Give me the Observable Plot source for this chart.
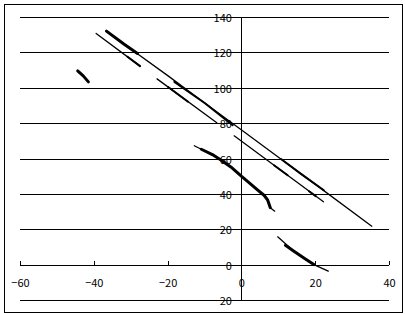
<!DOCTYPE html>
<html>
<head>
<meta charset="utf-8">
<script src="https://cdn.jsdelivr.net/npm/d3@7"></script>
<script src="https://cdn.jsdelivr.net/npm/@observablehq/plot@0.6"></script>
<style>
  html, body { margin: 0; padding: 0; background: #fff; }
</style>
</head>
<body>
<div id="chart"></div>
<script>
const xTicks = [-60, -40, -20, 0, 20, 40];
const yTicks = [-20, 0, 20, 40, 60, 80, 100, 120, 140];

// thin traces
const seriesA = [[-36.8,132.3],[-30,122],[-20,107],[-10,91.5],[0,76.3],[10,60.8],[20,45.5],[35.2,22.0]];
const seriesB = [[-39.5,131.0],[-27.6,112.5]];
const seriesC = [[-23.0,105.3],[-6.8,80.5]];
const seriesD = [[-2.1,73.1],[22.1,35.8]];
const seriesE = [[-12.9,67.5],[-11,65.5],[-8,62.5],[-5.7,59.4],[-3,55.5],[0,50],[2,46.5],[4.3,42.4],[6,39.5],[7,36.7],[7.7,32.5],[8.9,30.5]];
const seriesF = [[9.7,16.0],[14,8.0],[19.5,0.3],[23.4,-3.4]];
const seriesG = [[-44.5,109.8],[-43,107],[-41.6,103.6]];

// dense (heavy) portions
const heavyA1 = [[-36.7,132.3],[-32,125],[-28.3,119.7]];
const heavyA2 = [[-18.3,103.6],[-10,91.5],[-2.5,79.1]];
const heavyA3 = [[10.6,60.0],[16,51.6],[22.2,42.3]];
const heavyB = [[-31,117.8],[-27.6,112.5]];
const heavyC = [[-20,100.7],[-14.6,92.4]];
const heavyD1 = [[8.7,56.5],[12.4,50.8]];
const heavyD2 = [[18.2,41.8],[20,39.0]];
const heavyE = [[-11,65.5],[-8,62.5],[-5.7,59.4],[-3,55.5],[0,50],[2,46.5],[4.3,42.4],[6,39.5],[7,36.7],[7.7,32.5]];
const heavyF = [[11.8,11.2],[14,8.0],[17,3.8],[19.5,0.3]];
const heavyG = [[-44.5,109.8],[-43,107],[-41.6,103.6]];

const thin = [seriesA, seriesB, seriesC, seriesD, seriesE, seriesF, seriesG];
const medium = [heavyA3, heavyB, heavyC, heavyD1, heavyD2, heavyA2];
const heavy = [heavyA1, heavyE, heavyF, heavyG];

const fmt = d => d < 0 ? "\u2212" + Math.abs(d) : String(d);

const lineMarks = (list, w) => list.map(s => Plot.line(s, {x: d => d[0], y: d => d[1], stroke: "black", strokeWidth: w}));

const chart = Plot.plot({
  width: 405,
  height: 314,
  marginLeft: 20,
  marginRight: 16,
  marginTop: 17,
  marginBottom: 14,
  x: {domain: [-60, 40], axis: null},
  y: {domain: [-20, 140], axis: null},
  style: {fontFamily: "'Noto Sans CJK JP', 'Liberation Sans', sans-serif", fontSize: "11px", background: "#fff", color: "black"},
  marks: [
    Plot.frame({stroke: "black", strokeWidth: 1, insetLeft: -16.5, insetRight: -12.5, insetTop: -13.5, insetBottom: -11.5, shapeRendering: "crispEdges"}),
    Plot.ruleY(yTicks, {x1: -60, x2: 40, stroke: "black", strokeWidth: 1, shapeRendering: "crispEdges"}),
    Plot.ruleX([0], {y1: -20, y2: 140, stroke: "black", strokeWidth: 1, shapeRendering: "crispEdges"}),
    Plot.ruleX(xTicks, {y1: 0, y2: 1.8, stroke: "black", strokeWidth: 1, shapeRendering: "crispEdges"}),
    Plot.text(yTicks, {x: 0, y: d => d, text: fmt, textAnchor: "end", dx: -10, dy: 1, fill: "black"}),
    Plot.text(xTicks, {x: d => d, y: 0, text: fmt, dy: 18, fill: "black"}),
    ...lineMarks(thin, 1.3),
    ...lineMarks(medium, 2),
    ...lineMarks(heavy, 3)
  ]
});
document.getElementById("chart").appendChild(chart);
</script>
</body>
</html>
